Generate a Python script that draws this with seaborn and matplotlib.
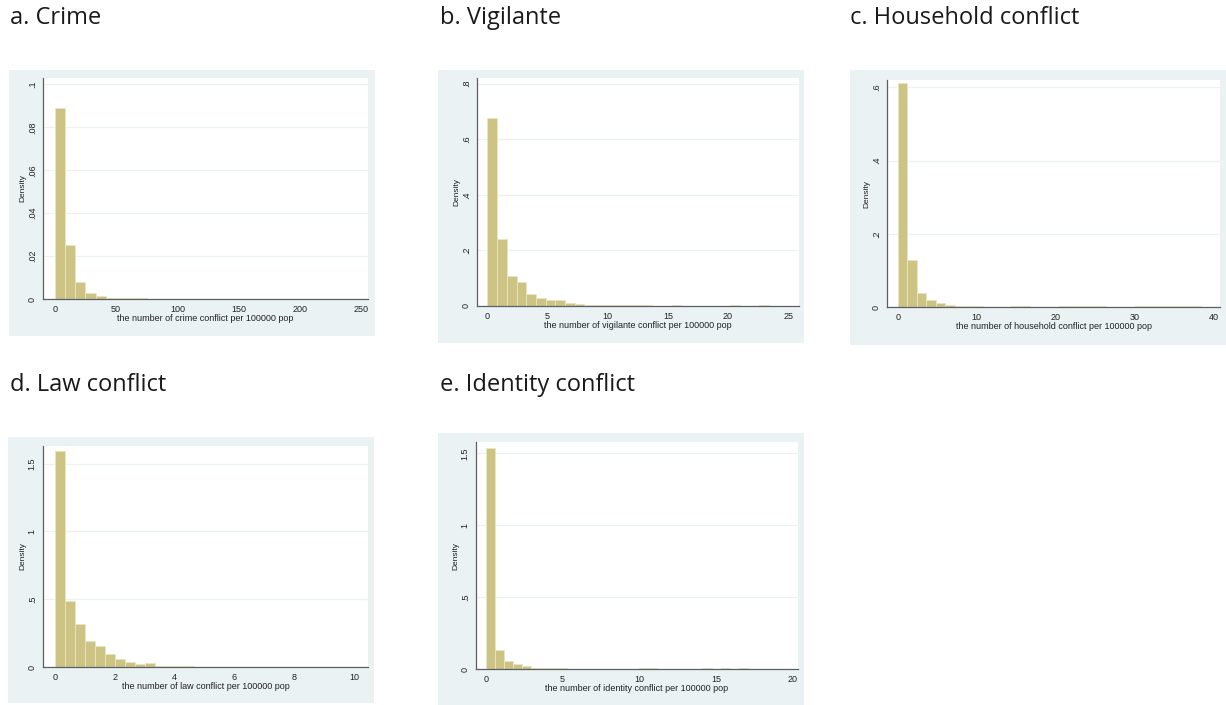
import numpy as np
import pandas as pd
import matplotlib
matplotlib.use("Agg")
import matplotlib.pyplot as plt
import seaborn as sns

sns.set_style("white")
plt.rcParams['font.family'] = ['Liberation Sans', 'DejaVu Sans']

# ---------------- data ----------------
titles = ["a. Crime", "b. Vigilante", "c. Household conflict",
          "d. Law conflict", "e. Identity conflict"]
xlabels = ["the number of crime conflict per 100000 pop",
           "the number of vigilante conflict per 100000 pop",
           "the number of household conflict per 100000 pop",
           "the number of law conflict per 100000 pop",
           "the number of identity conflict per 100000 pop"]

crime_width = 250 / 30
crime_density = [0.089, 0.025, 0.0078, 0.0030, 0.0014, 0.0006, 0.0003, 0.0004,
                 0.0003, 0.0001, 0.0001, 0.0001, 0.0001, 0.0001, 0.00005, 0.0001,
                 0.00005, 0.0001, 0.00005, 0.0001, 0.0001, 0.00005, 0.0001, 0.00005,
                 0.00005, 0.0001, 0.0001, 0.00005, 0.0001, 0.0001]

vigilante_width = 25 / 31
vigilante_density = [0.675, 0.240, 0.107, 0.085, 0.042, 0.030, 0.020, 0.022,
                     0.010, 0.007, 0.005, 0.004, 0.003, 0.002, 0.003, 0.003,
                     0.002, 0.001, 0.001, 0.004, 0.001, 0.001, 0.001, 0.001,
                     0.001, 0.002, 0.001, 0.001, 0.002, 0.001, 0.001]

household_width = 1.2
household_density = [0.613, 0.129, 0.039, 0.020, 0.011, 0.005, 0.004, 0.004,
                     0.002, 0.001, 0.001, 0.001, 0.002, 0.002, 0.001, 0.0,
                     0.001, 0.002, 0.002, 0.002, 0.002, 0.002, 0.001, 0.0,
                     0.0, 0.002, 0.002, 0.002, 0.002, 0.002, 0.002, 0.002]

law_width = 0.333
law_density = [1.59, 0.49, 0.317, 0.190, 0.153, 0.094, 0.060, 0.040,
               0.022, 0.032, 0.007, 0.010, 0.008, 0.005, 0.003, 0.002,
               0.002, 0.001, 0.002, 0.001, 0.002, 0.001, 0.001, 0.001,
               0.001, 0.002, 0.001, 0.0, 0.001, 0.001, 0.001]

identity_width = 20 / 34
identity_density = [1.54, 0.130, 0.058, 0.033, 0.023, 0.010, 0.008, 0.006,
                    0.004, 0.003, 0.002, 0.002, 0.002, 0.001, 0.002, 0.001,
                    0.002, 0.004, 0.004, 0.001, 0.001, 0.001, 0.001, 0.0,
                    0.004, 0.002, 0.004, 0.0, 0.004, 0.001, 0.0, 0.0,
                    0.0, 0.001]

widths = [crime_width, vigilante_width, household_width, law_width, identity_width]
densities = [crime_density, vigilante_density, household_density, law_density, identity_density]

xticks = [[0, 50, 100, 150, 200, 250], [0, 5, 10, 15, 20, 25], [0, 10, 20, 30, 40],
          [0, 2, 4, 6, 8, 10], [0, 5, 10, 15, 20]]
yticks = [[0, 0.02, 0.04, 0.06, 0.08, 0.1], [0, 0.2, 0.4, 0.6, 0.8], [0, 0.2, 0.4, 0.6],
          [0, 0.5, 1, 1.5], [0, 0.5, 1, 1.5]]
ytick_labels = [["0", ".02", ".04", ".06", ".08", ".1"], ["0", ".2", ".4", ".6", ".8"],
                ["0", ".2", ".4", ".6"], ["0", ".5", "1", "1.5"], ["0", ".5", "1", "1.5"]]

# ---------------- layout ----------------
W, H = 1226, 705
bg_boxes = [(9, 70, 375, 336), (438, 70, 804, 343), (850, 70, 1226, 345),
            (8, 437, 374, 703), (438, 433, 804, 705)]
ax_boxes = [(43, 78, 368, 299), (477, 78, 799, 306), (887, 80, 1220, 307),
            (43, 446, 368, 667), (476, 442, 798, 669)]
xlims = [(-9.6, 255.5), (-0.87, 25.9), (-1.36, 40.8), (-0.4, 10.47), (-0.64, 20.34)]
ylims = [(0, 0.103), (0, 0.82), (0, 0.62), (0, 1.63), (0, 1.58)]
title_pos = [(10, 18), (440, 18), (850, 18), (10, 385), (440, 385)]

BG = "#eaf2f3"
BAR = "#cdc484"
EDGE = "#e8e4c4"
AXC = "#5a5f66"

fig = plt.figure(figsize=(W / 100, H / 100), dpi=100)
fig.patch.set_facecolor("white")

def rect(box):
    x0, y0, x1, y1 = box
    return [x0 / W, 1 - y1 / H, (x1 - x0) / W, (y1 - y0) / H]

for i in range(5):
    bgax = fig.add_axes(rect(bg_boxes[i]), zorder=0)
    bgax.set_facecolor(BG)
    bgax.set_xticks([])
    bgax.set_yticks([])
    for s in bgax.spines.values():
        s.set_visible(False)

    ax = fig.add_axes(rect(ax_boxes[i]), zorder=1)
    ax.set_facecolor("white")

    w = widths[i]
    h = list(densities[i])
    n = len(h)
    centers = [(k + 0.5) * w for k in range(n)]
    df = pd.DataFrame({"x": centers, "density": h})
    sns.histplot(data=df, x="x", weights="density", bins=n, binrange=(0, n * w),
                 stat="count", color=BAR, edgecolor=EDGE, linewidth=0.6, alpha=1,
                 ax=ax)

    ax.set_xlim(*xlims[i])
    ax.set_ylim(*ylims[i])
    ax.set_xticks(xticks[i])
    ax.set_xticklabels([str(t) for t in xticks[i]])
    ax.set_yticks(yticks[i])
    ax.set_yticklabels(ytick_labels[i], rotation=90, va="center")
    ax.grid(axis="y", color=BG, linewidth=0.9, zorder=0)
    ax.grid(axis="x", visible=False)
    ax.set_axisbelow(True)
    for s in ["top", "right"]:
        ax.spines[s].set_visible(False)
    for s in ["left", "bottom"]:
        ax.spines[s].set_color(AXC)
        ax.spines[s].set_linewidth(0.9)
    ax.tick_params(axis="both", direction="out", length=2.5, width=0.7,
                   color=AXC, labelsize=6.5, pad=2, labelcolor="#222222")
    ax.set_ylabel("Density", fontsize=6, labelpad=1, color="#222222")
    ax.set_xlabel(xlabels[i], fontsize=6.5, labelpad=0, color="#222222")

    tx, ty = title_pos[i]
    fig.text(tx / W, 1 - ty / H, titles[i], fontsize=17, va="center", ha="left",
             family=["Open Sans", "DejaVu Sans"], color="#1a1a1a")

fig.savefig("out.png", dpi=100)
